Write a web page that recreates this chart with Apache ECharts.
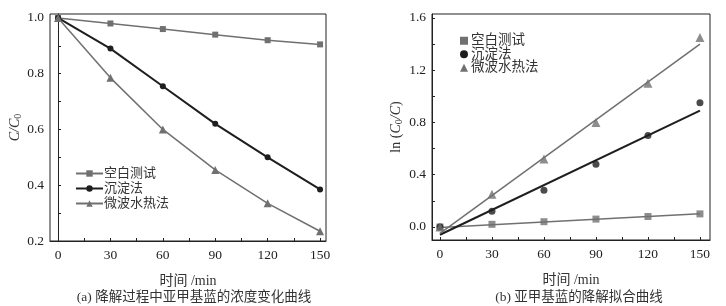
<!DOCTYPE html>
<html>
<head>
<meta charset="utf-8">
<script src="https://cdn.jsdelivr.net/npm/echarts@6/dist/echarts.min.js"></script>
<style>
  html, body { margin: 0; padding: 0; background: #fff; }
  #chart { width: 726px; height: 306px; }
</style>
</head>
<body>
<div id="chart"></div>
<script>
// 数据
var times = [0, 30, 60, 90, 120, 150];
var seriesNames = ['空白测试', '沉淀法', '微波水热法'];
// (a) C/C0
var blankRatio = [1.0, 0.98, 0.96, 0.94, 0.92, 0.905];
var precipRatio = [1.0, 0.89, 0.755, 0.62, 0.50, 0.385];
var microRatio = [1.0, 0.785, 0.60, 0.455, 0.335, 0.235];
// (b) ln(C0/C)
var blankLn = [0.0, 0.02, 0.04, 0.06, 0.08, 0.10];
var precipLn = [0.0, 0.12, 0.28, 0.48, 0.70, 0.95];
var microLn = [0.0, 0.25, 0.52, 0.80, 1.10, 1.45];
// 拟合直线两端 (t = 0, 150)
var fitTimes = [0, 150];
var blankFit = [-0.005, 0.10];
var precipFit = [-0.06, 0.89];
var microFit = [-0.05, 1.40];
// 刻度
var xTickLabels = [0, 30, 60, 90, 120, 150];
var xMinorTicks = [0, 15, 30, 45, 60, 75, 90, 105, 120, 135, 150];
var yTickLabelsA = [0.2, 0.4, 0.6, 0.8, 1.0];
var yMinorTicksA = [0.2, 0.3, 0.4, 0.5, 0.6, 0.7, 0.8, 0.9, 1.0];
var yTickLabelsB = [0.0, 0.4, 0.8, 1.2, 1.6];
var yMinorTicksB = [0.0, 0.2, 0.4, 0.6, 0.8, 1.0, 1.2, 1.4, 1.6];

function pairs(xs, ys) {
  return xs.map(function (x, i) { return [x, ys[i]]; });
}

var FONT = '"Liberation Serif", "Noto Sans CJK SC", serif';
var GRAY = '#707070';
var DARK = '#1e1e1e';

function xAxisOf(gridIndex, min, max) {
  return {
    type: 'value', gridIndex: gridIndex, min: min, max: max,
    name: '时间 /min', nameLocation: 'middle', nameGap: 33,
    nameTextStyle: { fontFamily: FONT, fontSize: 14, color: '#333' },
    axisLine: { show: true, onZero: false, lineStyle: { color: '#222', width: 1 } },
    axisTick: { show: true, inside: true, length: 3, customValues: xMinorTicks, lineStyle: { color: '#222' } },
    axisLabel: { customValues: xTickLabels, fontFamily: FONT, fontSize: 13.5, color: '#222', margin: 8 },
    splitLine: { show: false }
  };
}

var chart = echarts.init(document.getElementById('chart'));
var option = {
  animation: false,
  backgroundColor: '#fff',
  textStyle: { fontFamily: FONT },
  title: [
    { text: '(a) 降解过程中亚甲基蓝的浓度变化曲线', left: 189, top: 286, textAlign: 'center',
      textStyle: { fontFamily: FONT, fontSize: 13.5, fontWeight: 'normal', color: '#333' } },
    { text: '(b) 亚甲基蓝的降解拟合曲线', left: 574, top: 286, textAlign: 'center',
      textStyle: { fontFamily: FONT, fontSize: 13.5, fontWeight: 'normal', color: '#333' } }
  ],
  grid: [
    { left: 50, top: 14, width: 276, height: 227, show: true, borderColor: '#222', borderWidth: 1, containLabel: false },
    { left: 432, top: 14, width: 278, height: 226, show: true, borderColor: '#222', borderWidth: 1, containLabel: false }
  ],
  legend: [
    {
      orient: 'vertical', left: 70, top: 162, itemWidth: 27, itemHeight: 8, itemGap: 2,
      textStyle: { fontFamily: FONT, fontSize: 13, color: '#333', padding: [0, 0, 0, -4] },
      data: seriesNames
    },
    {
      orient: 'vertical', left: 455, top: 29, itemWidth: 8, itemHeight: 8, itemGap: 0,
      textStyle: { fontFamily: FONT, fontSize: 13.5, color: '#333', padding: [0, 0, 0, -2] },
      data: [
        { name: seriesNames[0], icon: 'rect' },
        { name: seriesNames[1], icon: 'circle' },
        { name: seriesNames[2], icon: 'triangle' }
      ]
    }
  ],
  xAxis: [
    xAxisOf(0, -4.6, 153.4),
    xAxisOf(1, -4.6, 155.8)
  ],
  yAxis: [
    {
      type: 'value', gridIndex: 0, min: 0.2, max: 1.014,
      name: '{i|C/C}{s|0}', nameLocation: 'middle', nameGap: 27,
      nameTextStyle: {
        rich: {
          i: { fontFamily: FONT, fontStyle: 'italic', fontSize: 14, color: '#333' },
          s: { fontFamily: FONT, fontSize: 10, color: '#333', padding: [5, 0, 0, 0] }
        }
      },
      axisLine: { show: true, lineStyle: { color: '#222', width: 1 } },
      axisTick: { show: true, inside: true, length: 3, customValues: yMinorTicksA, lineStyle: { color: '#222' } },
      axisLabel: { customValues: yTickLabelsA, fontFamily: FONT, fontSize: 13.5, color: '#222', margin: 6,
        formatter: function (v) { return v.toFixed(1); } },
      splitLine: { show: false }
    },
    {
      type: 'value', gridIndex: 1, min: -0.1, max: 1.63,
      name: '{n|ln (}{i|C}{s|0}{i|/C}{n|)}', nameLocation: 'middle', nameGap: 28,
      nameTextStyle: {
        rich: {
          n: { fontFamily: FONT, fontSize: 14, color: '#333' },
          i: { fontFamily: FONT, fontStyle: 'italic', fontSize: 14, color: '#333' },
          s: { fontFamily: FONT, fontSize: 10, color: '#333', padding: [5, 0, 0, 0] }
        }
      },
      axisLine: { show: true, onZero: false, lineStyle: { color: '#222', width: 1 } },
      axisTick: { show: true, inside: true, length: 3, customValues: yMinorTicksB, lineStyle: { color: '#222' } },
      axisLabel: { customValues: yTickLabelsB, fontFamily: FONT, fontSize: 13.5, color: '#222', margin: 6,
        formatter: function (v) { return v.toFixed(1); } },
      splitLine: { show: false }
    }
  ],
  series: [
    // (a)
    { name: seriesNames[0], type: 'line', xAxisIndex: 0, yAxisIndex: 0, data: pairs(times, blankRatio),
      symbol: 'rect', symbolSize: 6, color: GRAY, lineStyle: { color: GRAY, width: 1.5 }, itemStyle: { color: GRAY } },
    { name: seriesNames[1], type: 'line', xAxisIndex: 0, yAxisIndex: 0, data: pairs(times, precipRatio),
      symbol: 'circle', symbolSize: 6, color: DARK, lineStyle: { color: DARK, width: 2 }, itemStyle: { color: DARK } },
    { name: seriesNames[2], type: 'line', xAxisIndex: 0, yAxisIndex: 0, data: pairs(times, microRatio),
      symbol: 'triangle', symbolSize: 8, color: GRAY, lineStyle: { color: GRAY, width: 1.5 }, itemStyle: { color: GRAY } },
    // (b) 散点
    { name: seriesNames[0], type: 'scatter', xAxisIndex: 1, yAxisIndex: 1, data: pairs(times, blankLn),
      symbol: 'rect', symbolSize: 7, itemStyle: { color: GRAY } },
    { name: seriesNames[1], type: 'scatter', xAxisIndex: 1, yAxisIndex: 1, data: pairs(times, precipLn),
      symbol: 'circle', symbolSize: 7, itemStyle: { color: DARK } },
    { name: seriesNames[2], type: 'scatter', xAxisIndex: 1, yAxisIndex: 1, data: pairs(times, microLn),
      symbol: 'triangle', symbolSize: 9, itemStyle: { color: GRAY } },
    // (b) 拟合线
    { name: 'fit-blank', type: 'line', xAxisIndex: 1, yAxisIndex: 1, data: pairs(fitTimes, blankFit),
      showSymbol: false, lineStyle: { color: GRAY, width: 1.5 }, z: 1 },
    { name: 'fit-precip', type: 'line', xAxisIndex: 1, yAxisIndex: 1, data: pairs(fitTimes, precipFit),
      showSymbol: false, lineStyle: { color: DARK, width: 2 }, z: 1 },
    { name: 'fit-micro', type: 'line', xAxisIndex: 1, yAxisIndex: 1, data: pairs(fitTimes, microFit),
      showSymbol: false, lineStyle: { color: GRAY, width: 1.5 }, z: 1 }
  ]
};
chart.setOption(option);
window.addEventListener('resize', function () {
  chart.resize();
});
</script>
</body>
</html>
